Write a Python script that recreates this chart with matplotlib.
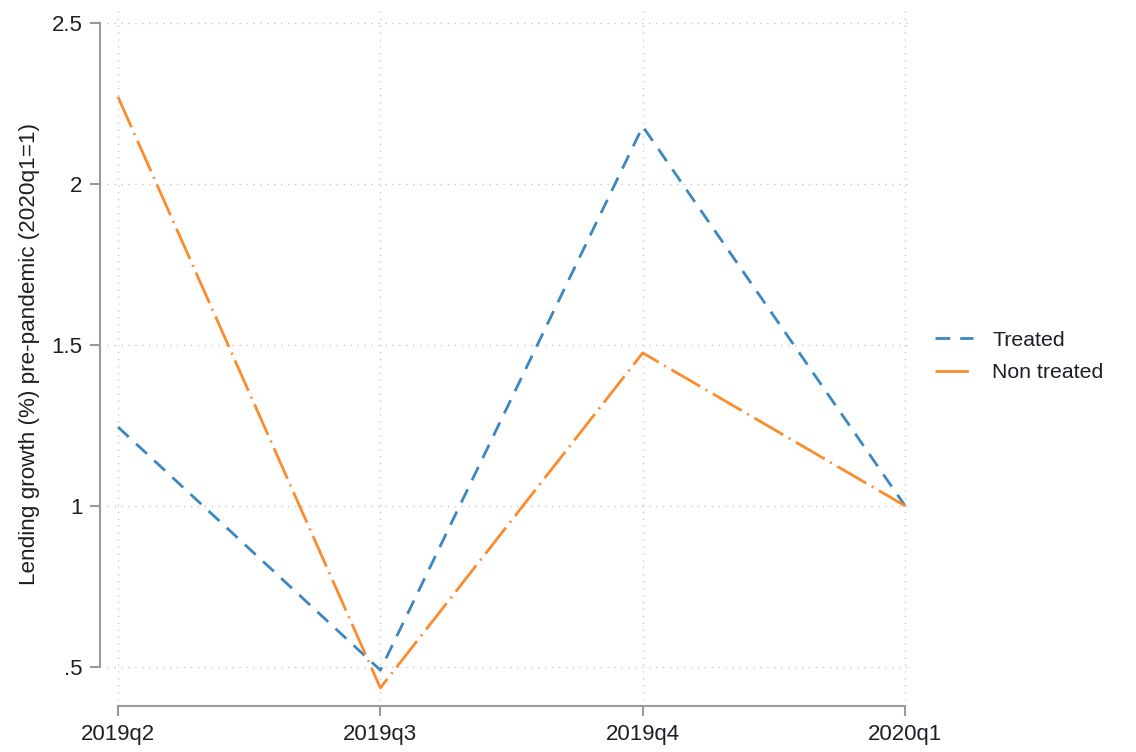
import matplotlib
matplotlib.use("Agg")
import matplotlib.pyplot as plt

plt.rcParams["font.family"] = ["Liberation Sans", "DejaVu Sans"]

quarters = ["2019q2", "2019q3", "2019q4", "2020q1"]
treated = [1.245, 0.49, 2.178, 1.0]
non_treated = [2.27, 0.435, 1.475, 1.0]
yticks = [0.5, 1.0, 1.5, 2.0, 2.5]
ytick_labels = [".5", "1", "1.5", "2", "2.5"]

blue = "#3a87c1"
orange = "#fd8b2b"
spine_col = "#9a9a9a"
text_col = "#1e1e24"
fs = 15.3


def main() -> None:
    fig = plt.figure(figsize=(11.36, 7.52), dpi=100)
    ax = fig.add_axes([0.0946, 0.069, 0.7091, 0.920])

    x = list(range(len(quarters)))
    ax.plot(x, treated, color=blue, lw=2.0, linestyle=(0, (5.3, 3.6)), label="Treated")
    ax.plot(x, non_treated, color=orange, lw=2.0,
            linestyle=(0, (12, 2.3, 0.7, 2.3)), label="Non treated")

    ax.set_xlim(-0.04, 3.03)
    ax.set_ylim(0.397, 2.545)
    ax.set_xticks(x)
    ax.set_xticklabels(quarters)
    ax.set_yticks(yticks)
    ax.set_yticklabels(ytick_labels)

    ax.grid(True, color="#c8c8c8", lw=1.0, linestyle=(0, (1, 4)))
    ax.set_axisbelow(True)

    for side in ("top", "right"):
        ax.spines[side].set_visible(False)
    ax.spines["left"].set_position(("outward", 5.5))
    ax.spines["bottom"].set_position(("outward", 4.5))
    ax.spines["left"].set_bounds(0.5, 2.5)
    ax.spines["bottom"].set_bounds(0, 3)
    for side in ("left", "bottom"):
        ax.spines[side].set_color(spine_col)
        ax.spines[side].set_linewidth(1.5)

    ax.tick_params(axis="both", colors=spine_col, width=1.5, length=7,
                   labelsize=16, labelcolor=text_col)
    ax.tick_params(axis="y", pad=5.5)
    ax.tick_params(axis="x", pad=6)

    ax.set_ylabel("Lending growth (%) pre-pandemic (2020q1=1)", fontsize=16.2,
                  color=text_col, labelpad=8)

    ax.legend(loc="center left", bbox_to_anchor=(935 / 1136, 1 - 356.5 / 752),
              bbox_transform=fig.transFigure, frameon=False, borderpad=0,
              borderaxespad=0, fontsize=fs, handlelength=1.8,
              handletextpad=0.9, labelspacing=0.62, labelcolor=text_col)

    fig.savefig("out.png", dpi=100)
    plt.close(fig)


if __name__ == "__main__":
    main()
